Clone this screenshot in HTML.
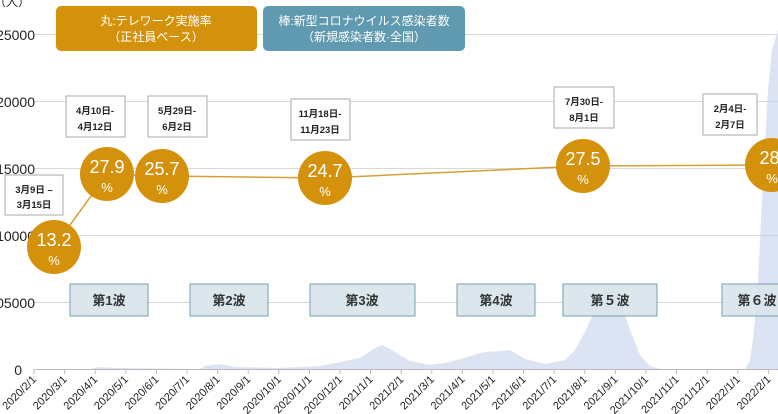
<!DOCTYPE html>
<html><head><meta charset="utf-8"><style>
body{margin:0;background:#fff;width:778px;height:414px;overflow:hidden}
svg{display:block;font-family:"Liberation Sans","Noto Sans CJK JP",sans-serif}
</style></head><body>
<svg width="778" height="414" viewBox="0 0 778 414">
<g stroke="#d9d9d9" stroke-width="1">
<line x1="34" y1="34.5" x2="778" y2="34.5"/><line x1="34" y1="101.5" x2="778" y2="101.5"/>
<line x1="34" y1="168.5" x2="778" y2="168.5"/><line x1="34" y1="235.5" x2="778" y2="235.5"/>
<line x1="34" y1="302.5" x2="778" y2="302.5"/><line x1="34" y1="369.5" x2="778" y2="369.5" stroke="#bbb"/>
</g>
<g font-size="14" fill="#222" text-anchor="end">
<text x="35" y="40">25000</text><text x="35" y="107">20000</text><text x="35" y="174">15000</text>
<text x="35" y="241">10000</text><text x="35" y="308">05000</text><text x="22" y="375">0</text>
<text x="30" y="6" font-size="12">（人）</text>
</g>
<polygon fill="#c5d0ea" opacity="0.6" points="34,369 90,369 100,367 115,368 200,369 205,366 220,364 235,367 280,368 320,366 340,362 360,358 375,348 382,345 395,352 410,361 430,365 450,362 470,356 485,352 500,351 510,350 525,359 545,364 565,360 575,350 585,332 595,310 605,292 612,290 620,300 630,330 640,355 650,366 660,369 745,369 750,360 753,338 757,300 760,240 764,160 768,90 772,50 778,30 778,369"/>
<polyline fill="none" stroke="#d4a03a" stroke-width="1.5" points="54,247 107,174 162,176 325,178 583,166 772,165"/>
<g fill="#d4920c">
<circle cx="54" cy="247" r="27"/><circle cx="107" cy="174" r="27"/><circle cx="162" cy="176" r="27"/>
<circle cx="325" cy="178" r="27"/><circle cx="583" cy="166" r="27"/><circle cx="772" cy="165" r="27"/>
</g>
<g fill="#fff" font-size="18" text-anchor="middle">
<text x="54" y="246">13.2</text><text x="54" y="265" font-size="13">%</text>
<text x="107" y="173">27.9</text><text x="107" y="192" font-size="13">%</text>
<text x="162" y="175">25.7</text><text x="162" y="194" font-size="13">%</text>
<text x="325" y="177">24.7</text><text x="325" y="196" font-size="13">%</text>
<text x="583" y="165">27.5</text><text x="583" y="184" font-size="13">%</text>
<text x="772" y="164">28.</text><text x="772" y="183" font-size="13">%</text>
</g>
<rect x="56" y="6" width="201" height="45" rx="5" fill="#d4920c"/>
<rect x="263" y="6" width="202" height="45" rx="5" fill="#5f9ab0"/>
<g fill="#fff" font-size="12" text-anchor="middle">
<text x="156" y="25">丸:テレワーク実施率</text><text x="156" y="41">（正社員ベース）</text>
<text x="364" y="25">棒:新型コロナウイルス感染者数</text><text x="364" y="41">（新規感染者数·全国）</text>
</g>
<g fill="#fff" stroke="#aaa">
<rect x="5" y="175" width="58" height="40"/><rect x="66" y="96" width="59" height="41"/>
<rect x="148" y="96" width="59" height="41"/><rect x="291" y="99" width="59" height="41"/>
<rect x="554" y="87" width="60" height="41"/><rect x="703" y="94" width="54" height="41"/>
</g>
<g fill="#222" font-size="9.5" font-weight="bold" text-anchor="middle">
<text x="34" y="193">3月9日 –</text><text x="34" y="208">3月15日</text>
<text x="95" y="114">4月10日-</text><text x="95" y="130">4月12日</text>
<text x="177" y="114">5月29日-</text><text x="177" y="130">6月2日</text>
<text x="320" y="117">11月18日-</text><text x="320" y="133">11月23日</text>
<text x="584" y="105">7月30日-</text><text x="584" y="121">8月1日</text>
<text x="730" y="112">2月4日-</text><text x="730" y="128">2月7日</text>
</g>
<g fill="#d9e5ec" stroke="#6a98ad" opacity="0.92">
<rect x="70" y="284" width="78" height="32"/><rect x="190" y="284" width="78" height="32"/>
<rect x="310" y="284" width="105" height="32"/><rect x="457" y="284" width="78" height="32"/>
<rect x="563" y="284" width="94" height="32"/><rect x="722" y="284" width="70" height="32"/>
</g>
<g fill="#333" font-size="13" font-weight="bold" text-anchor="middle">
<text x="109" y="305">第1波</text><text x="229" y="305">第2波</text><text x="362" y="305">第3波</text>
<text x="496" y="305">第4波</text><text x="610" y="305">第５波</text><text x="757" y="305">第６波</text>
</g>
<g id="tk" stroke="#bbb"></g>
<g id="lb" font-size="11" fill="#222"></g>
</svg>
<script>
var ns="http://www.w3.org/2000/svg",tk=document.getElementById("tk"),lb=document.getElementById("lb");
var labs=[];for(var y=2020,m=2;labs.length<25;){labs.push(y+"/"+m+"/1");m++;if(m>12){m=1;y++;}}
labs.forEach(function(s,i){var x=34+30.6*i;
var l=document.createElementNS(ns,"line");l.setAttribute("x1",x);l.setAttribute("x2",x);l.setAttribute("y1",369);l.setAttribute("y2",374);tk.appendChild(l);
var t=document.createElementNS(ns,"text");t.setAttribute("text-anchor","end");t.setAttribute("transform","translate("+(x+3)+",380) rotate(-45)");t.textContent=s;lb.appendChild(t);});
</script>
</body></html>
